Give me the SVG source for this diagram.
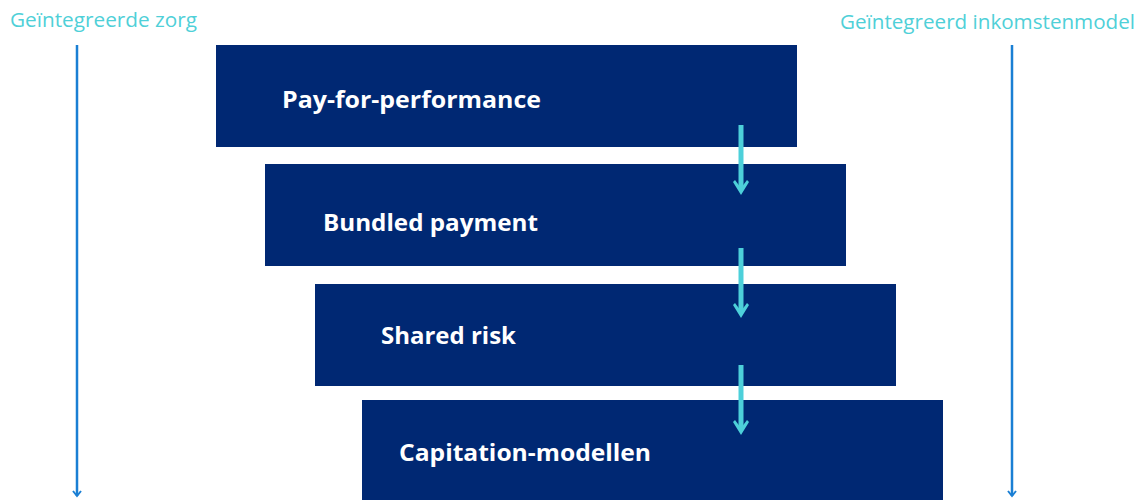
<svg xmlns="http://www.w3.org/2000/svg" width="1147" height="500" viewBox="0 0 1147 500">
  <style>
    .box { fill: #002873; }
    .label { font-family: "Open Sans", "Noto Sans", sans-serif; font-weight: bold; font-size: 23px; fill: #ffffff; }
    .axis-title { font-family: "Open Sans", "Noto Sans", sans-serif; font-size: 20px; fill: #4fd0d8; }
    .axis { stroke: #1a7fd4; stroke-width: 2.5; fill: none; }
    .axis-head { stroke: #1a7fd4; stroke-width: 2; fill: none; }
    .step { stroke: #4dd0da; stroke-width: 5; fill: none; }
    .step-head { fill: #4dd0da; }
  </style>

  <!-- side axes with titles -->
  <text class="axis-title" x="10" y="27" textLength="187" lengthAdjust="spacingAndGlyphs">Geïntegreerde zorg</text>
  <text class="axis-title" x="840" y="29" textLength="295" lengthAdjust="spacingAndGlyphs">Geïntegreerd inkomstenmodel</text>

  <!-- payment model steps -->
  <g id="node-pay-for-performance">
    <rect class="box" x="216" y="45" width="581" height="102"/>
    <text class="label" x="282" y="108" textLength="259" lengthAdjust="spacingAndGlyphs">Pay-for-performance</text>
  </g>
  <g id="node-bundled-payment">
    <rect class="box" x="265" y="164" width="581" height="102"/>
    <text class="label" x="323" y="231" textLength="215" lengthAdjust="spacingAndGlyphs">Bundled payment</text>
  </g>
  <g id="node-shared-risk">
    <rect class="box" x="315" y="284" width="581" height="102"/>
    <text class="label" x="381" y="344" textLength="135" lengthAdjust="spacingAndGlyphs">Shared risk</text>
  </g>
  <g id="node-capitation">
    <rect class="box" x="362" y="400" width="581" height="100"/>
    <text class="label" x="399" y="461" textLength="252" lengthAdjust="spacingAndGlyphs">Capitation-modellen</text>
  </g>

  <g id="connectors">
    <line class="axis" x1="77" y1="45" x2="77" y2="496"/>
    <path class="axis-head" d="M73,491 L77,496 L81,491"/>
    <line class="axis" x1="1012" y1="45" x2="1012" y2="496"/>
    <path class="axis-head" d="M1008,491 L1012,496 L1016,491"/>

    <line class="step" x1="741" y1="125" x2="741" y2="190"/>
    <path class="step-head" d="M733,182 L741,195 L749,182 L747,180 L741,188 L735,180 Z"/>
    <line class="step" x1="741" y1="248" x2="741" y2="313"/>
    <path class="step-head" d="M733,305 L741,318 L749,305 L747,303 L741,311 L735,303 Z"/>
    <line class="step" x1="741" y1="365" x2="741" y2="430"/>
    <path class="step-head" d="M733,422 L741,435 L749,422 L747,420 L741,428 L735,420 Z"/>
  </g>
</svg>
